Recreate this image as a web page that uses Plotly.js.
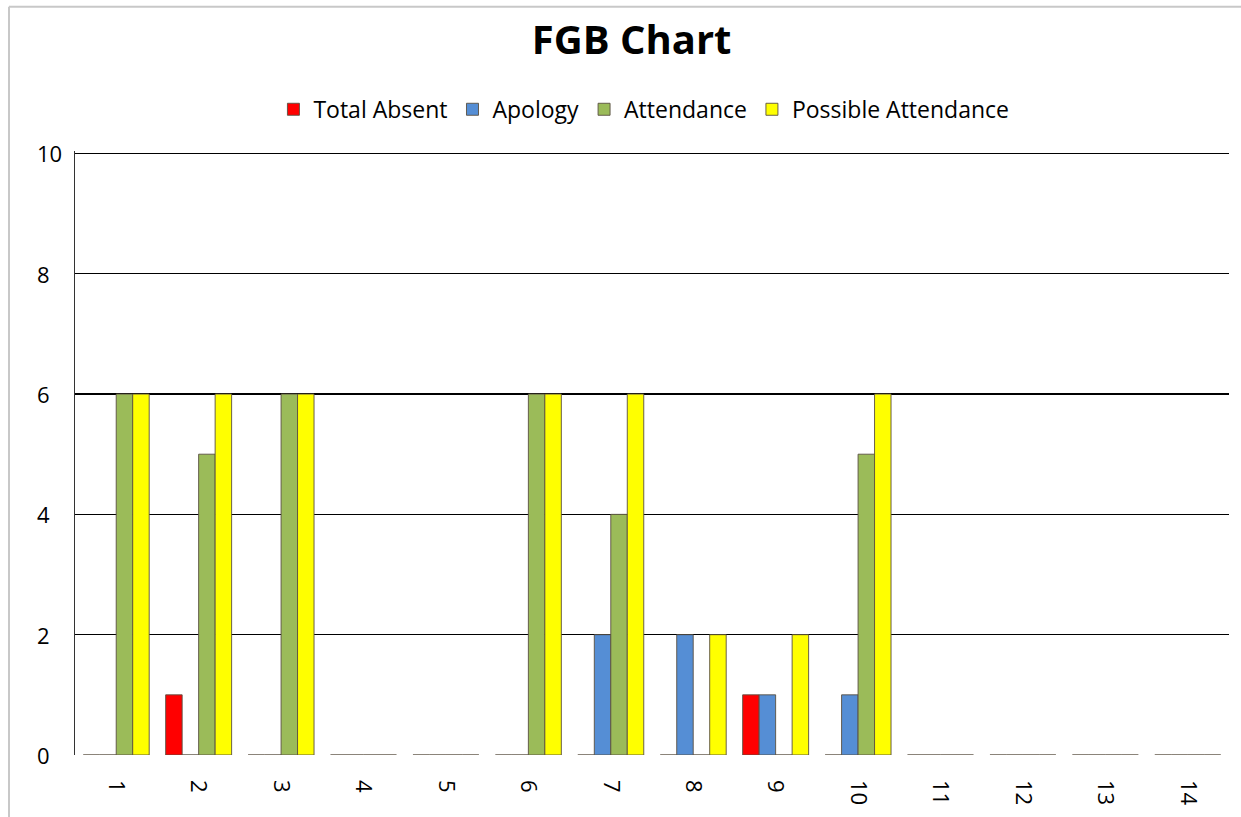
<!DOCTYPE html>
<html>
<head>
<meta charset="utf-8">
<script src="https://cdn.plot.ly/plotly-3.0.1.min.js"></script>
<style>html,body{margin:0;padding:0;background:#fff;}#chart{width:1241px;height:817px;}</style>
</head>
<body>
<div id="chart"></div>
<script>
const categories = ['1','2','3','4','5','6','7','8','9','10','11','12','13','14'];
const totalAbsent = [0,1,0,0,0,0,0,0,1,0,0,0,0,0];
const apology = [0,0,0,0,0,0,2,2,1,1,0,0,0,0];
const attendance = [6,5,6,0,0,6,4,0,0,5,0,0,0,0];
const possibleAttendance = [6,6,6,0,0,6,6,2,2,6,0,0,0,0];
const seriesNames = ['Total Absent','Apology','Attendance','Possible Attendance'];
const seriesColors = ['#FF0000','#558ED5','#9BBB59','#FFFF00'];
const seriesValues = [totalAbsent, apology, attendance, possibleAttendance];
const yTickValues = [0, 2, 4, 6, 8, 10];
const yTickLabels = ['0', '2', '4', '6', '8', '10'];

const FONT = '"Open Sans", sans-serif';
const traces = seriesValues.map((vals, i) => ({
  type: 'bar',
  name: seriesNames[i],
  x: categories,
  y: vals,
  marker: {color: seriesColors[i], line: {color: 'rgba(90,80,65,0.9)', width: 1}}
}));

const yLabelAnnotations = yTickValues.map((v, i) => ({
  xref: 'paper', yref: 'y', x: -0.0347, y: v, xanchor: 'left', yanchor: 'middle',
  text: yTickLabels[i], showarrow: false, font: {family: FONT, size: 22, color: '#000'}
}));

const layout = {
  width: 1241, height: 817,
  paper_bgcolor: '#fff', plot_bgcolor: '#fff',
  margin: {l: 75, r: 12, t: 151, b: 62},
  barmode: 'group', bargap: 0.2, bargroupgap: 0,
  title: {text: '<b>FGB Chart</b>', font: {family: FONT, size: 40, color: '#000'},
          x: 0.509, xanchor: 'center', y: 0.951, yanchor: 'middle'},
  showlegend: true,
  legend: {orientation: 'h', x: 0.493, xanchor: 'center', y: 1.069, yanchor: 'middle',
           font: {family: FONT, size: 23, color: '#000'}, itemwidth: 30, traceorder: 'normal'},
  xaxis: {type: 'category', tickangle: 90, tickfont: {family: FONT, size: 22, color: '#000'},
          showgrid: false, zeroline: false, showline: false, ticks: '', ticklabelstandoff: 24},
  yaxis: {range: [0, 10.04], tickvals: yTickValues, showticklabels: false,
          showgrid: true, gridcolor: '#000', gridwidth: 1.5, zeroline: false,
          showline: true, linecolor: '#333', linewidth: 1.3, ticks: ''},
  annotations: yLabelAnnotations,
  shapes: [
    {type: 'line', xref: 'paper', yref: 'paper', x0: -0.0572, x1: 1.02, y0: 1.239, y1: 1.239,
     line: {color: '#c8c8c8', width: 2}},
    {type: 'line', xref: 'paper', yref: 'paper', x0: -0.0572, x1: -0.0572, y0: 1.239, y1: -0.12,
     line: {color: '#c8c8c8', width: 2}}
  ]
};

Plotly.newPlot('chart', traces, layout, {displayModeBar: false, staticPlot: true});
</script>
</body>
</html>
